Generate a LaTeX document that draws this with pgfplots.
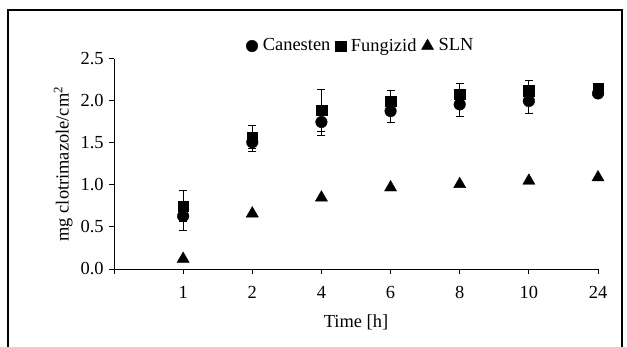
\documentclass[border=0pt]{standalone}
\usepackage{fontspec}
\setmainfont{Liberation Serif}
\usepackage{pgfplots}
\pgfplotsset{compat=1.18}
\usepackage{pgfplotstable}
\pgfplotstableread{
x y e
1 0.63 0.17
2 1.51 0.11
3 1.75 0.155
4 1.88 0.14
5 1.96 0.15
6 2.00 0.15
7 2.09 0.02
}\canesten
\pgfplotstableread{
x y e
1 0.75 0.19
2 1.57 0.14
3 1.89 0.25
4 2.00 0.13
5 2.08 0.13
6 2.12 0.13
7 2.15 0.02
}\fungizid
\pgfplotstableread{
x y e
1 0.12 0.0
2 0.66 0.0
3 0.85 0.0
4 0.97 0.0
5 1.01 0.0
6 1.05 0.0
7 1.09 0.0
}\sln
\begin{document}
\fontsize{18.5}{22}\selectfont
\begin{tikzpicture}[font=\fontsize{18.5}{22}\selectfont]
\path[use as bounding box] (0bp,0bp) rectangle (627bp,347bp);
\draw[line width=2bp] (8bp,-5bp) -- (8bp,337bp) -- (622bp,337bp) -- (622bp,-5bp);
\begin{axis}[
  at={(114bp,78bp)}, anchor=south west,
  scale only axis, width=484bp, height=210bp,
  xmin=0, xmax=7, ymin=0, ymax=2.5,
  axis lines=left, axis line style={-, line width=1bp},
  tick align=outside, major tick length=5bp,
  tick style={line width=1bp, black},
  xtick={0,1,2,3,4,5,6,7}, xticklabels={,1,2,4,6,8,10,24},
  ytick={0,0.5,1,1.5,2,2.5},
  yticklabel style={xshift=1bp, /pgf/number format/.cd, fixed, fixed zerofill, precision=1, assume math mode=true},
  xticklabel style={yshift=-6bp},
  xlabel={Time [h]},
  ylabel={mg clotrimazole/cm\textsuperscript{2}},
  every axis x label/.style={at={(axis description cs:0.5,-0.252)}, anchor=center},
  every axis y label/.style={at={(axis description cs:-0.105,0.5)}, rotate=90, anchor=center},
  legend columns=3,
  legend style={draw=none, fill=none, at={(0.51,1)}, anchor=south, yshift=1bp,
    /tikz/every odd column/.append style={column sep=3bp},
    /tikz/every even column/.append style={column sep=3bp}},
  legend image code/.code={\draw[#1] plot coordinates {(0bp,0bp)};},
  clip=false,
]
\addplot[only marks, mark=*, mark size=5.8bp, black,
  error bars/.cd, y dir=both, y explicit,
  error bar style={line width=1bp, black},
  error mark options={rotate=90, mark size=4bp, line width=1bp, black}]
  table[x=x, y=y, y error=e] {\canesten};
\addlegendentry{Canesten}
\addplot[only marks, mark=square*, mark size=5.3bp, black,
  error bars/.cd, y dir=both, y explicit,
  error bar style={line width=1bp, black},
  error mark options={rotate=90, mark size=4bp, line width=1bp, black}]
  table[x=x, y=y, y error=e] {\fungizid};
\addlegendentry{Fungizid}
\addplot[only marks, mark=triangle*, mark size=7bp, black]
  table[x=x, y=y] {\sln};
\addlegendentry{SLN}
\end{axis}
\end{tikzpicture}
\end{document}
